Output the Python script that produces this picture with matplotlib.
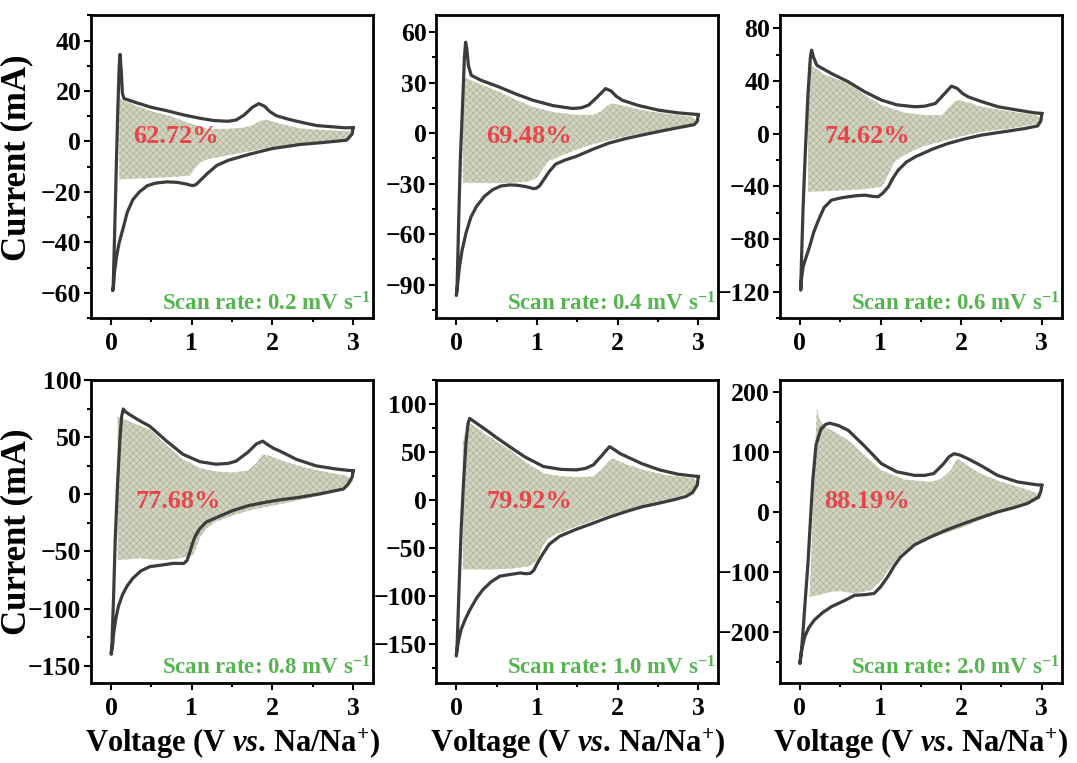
import matplotlib
matplotlib.use("Agg")
import matplotlib.pyplot as plt
from matplotlib.ticker import MultipleLocator

plt.rcParams["font.family"] = ["Liberation Serif", "DejaVu Serif"]
plt.rcParams["font.weight"] = "bold"
plt.rcParams["mathtext.fontset"] = "custom"
plt.rcParams["mathtext.rm"] = "Liberation Serif:bold"
plt.rcParams["mathtext.it"] = "Liberation Serif:italic:bold"
plt.rcParams["mathtext.bf"] = "Liberation Serif:bold"
plt.rcParams["hatch.linewidth"] = 0.4

# ---------------- data ----------------
scan_rates = ["0.2", "0.4", "0.6", "0.8", "1.0", "2.0"]
ratios = ["62.72%", "69.48%", "74.62%", "77.68%", "79.92%", "88.19%"]

# CV loops: cathodic sweep 3 V -> 0 V, then anodic sweep 0 V -> 3 V
cv_02_v = [3.0, 2.99, 2.92, 2.6, 2.34, 2.0, 1.72, 1.45, 1.31, 1.2, 1.1, 1.06, 1.02, 0.98, 0.94, 0.82,
           0.69, 0.55, 0.45, 0.35, 0.27, 0.2, 0.16, 0.1, 0.07, 0.04, 0.03, 0.02,
           0.025, 0.04, 0.06, 0.08, 0.1, 0.11, 0.125, 0.14, 0.16, 0.3, 0.5, 0.69, 0.9, 1.1,
           1.27, 1.45, 1.55, 1.65, 1.75, 1.83, 1.9, 1.97, 2.05, 2.2, 2.4, 2.55, 2.75, 2.9, 3.0]
cv_02_i = [5.5, 3.0, 0.5, -0.5, -1.2, -2.8, -5, -7.5, -9.5, -12.5, -15.6, -16.9, -17.5, -17.3, -16.9, -16.2,
           -16, -16.5, -17.5, -20, -23, -28, -33, -40, -45, -52, -57, -59,
           -58, -40, -15, 10, 30, 34.5, 28, 19, 17, 15.5, 13.5, 12.2, 10.5, 9.2,
           8.3, 8, 8.5, 10.5, 13.5, 15, 14, 11.8, 10.2, 8.8, 7.3, 6.3, 5.8, 5.4, 5.5]

cv_04_v = [3.0, 2.99, 2.95, 2.71, 2.5, 2.3, 2.1, 1.89, 1.7, 1.48, 1.35, 1.23, 1.15, 1.08, 1.03, 0.99,
           0.95, 0.92, 0.86, 0.75, 0.66, 0.55, 0.45, 0.35, 0.25, 0.18, 0.12, 0.07, 0.04, 0.02, 0.01, 0.0,
           0.01, 0.03, 0.05, 0.08, 0.1, 0.115, 0.13, 0.15, 0.185, 0.3, 0.53, 0.75, 0.95, 1.2,
           1.44, 1.55, 1.64, 1.75, 1.85, 1.92, 1.98, 2.06, 2.25, 2.51, 2.75, 3.0]
cv_04_i = [11, 7, 5, 2.8, 0.8, -1.2, -3.3, -6, -9.5, -14, -16, -18.5, -23, -28, -31.5, -32.8,
           -33, -32.5, -31.8, -31, -30.8, -31.5, -33.7, -37.5, -43.6, -50, -59.4, -70, -79, -88, -93, -96.5,
           -90, -50, -15, 20, 45, 54, 50, 40, 34.3, 31.5, 27.4, 23, 19.5, 16.3,
           14.6, 15, 16.6, 21.5, 26.4, 25, 22, 19.5, 16.5, 13.6, 12, 11]

cv_06_v = [3.0, 2.99, 2.95, 2.79, 2.5, 2.25, 2.05, 1.84, 1.65, 1.43, 1.32, 1.22, 1.15, 1.1, 1.03,
           0.97, 0.9, 0.81, 0.7, 0.6, 0.5, 0.39, 0.3, 0.23, 0.17, 0.12, 0.07, 0.04, 0.02, 0.01,
           0.02, 0.04, 0.07, 0.1, 0.13, 0.145, 0.17, 0.21, 0.4, 0.6, 0.8, 1.01, 1.2, 1.43,
           1.55, 1.68, 1.78, 1.88, 1.95, 2.02, 2.09, 2.25, 2.46, 2.7, 2.9, 3.0]
cv_06_i = [15.4, 10, 6, 4, 1.3, -1, -3.8, -7.3, -11.5, -17.5, -21.5, -27.6, -34, -40, -45,
           -47.8, -47.5, -46.6, -47, -47.8, -48.8, -50.4, -56, -65.6, -75, -85.8, -95, -101, -110, -118.7,
           -95, -55, -10, 30, 58, 63.5, 58, 52, 45.5, 39.5, 32, 25.6, 22, 20.5,
           21, 23, 29.5, 36.2, 34.5, 30.5, 28, 24.5, 20.5, 18, 16, 15.4]

cv_08_v = [3.0, 2.99, 2.93, 2.88, 2.6, 2.34, 2.1, 1.92, 1.7, 1.51, 1.35, 1.18, 1.1, 1.04, 1.0,
           0.97, 0.94, 0.9, 0.85, 0.77, 0.62, 0.48, 0.37, 0.27, 0.2, 0.14, 0.09, 0.06, 0.03, 0.02, 0.0,
           0.01, 0.03, 0.05, 0.08, 0.11, 0.13, 0.15, 0.18, 0.23, 0.35, 0.48, 0.68, 0.89, 1.1,
           1.3, 1.45, 1.55, 1.7, 1.8, 1.88, 1.95, 2.02, 2.09, 2.3, 2.54, 2.8, 3.0]
cv_08_i = [20.5, 15, 8, 4.6, 0.5, -2.6, -4.8, -6.9, -10, -14.2, -19, -24.3, -30, -37, -45,
           -52, -58, -60.5, -60.5, -60.4, -62, -63.3, -67, -73.4, -80, -87.9, -98, -108, -122, -131, -140,
           -130, -90, -40, 10, 50, 68, 74.6, 72, 69.7, 64.5, 59.5, 47, 35, 28.5,
           26.3, 27, 29, 37, 44, 46.5, 43, 40, 37.9, 30.5, 24.9, 22, 20.5]

cv_10_v = [3.0, 2.99, 2.93, 2.85, 2.7, 2.52, 2.3, 2.11, 1.9, 1.7, 1.48, 1.28, 1.15, 1.08, 1.03,
           0.99, 0.96, 0.92, 0.87, 0.79, 0.65, 0.54, 0.43, 0.33, 0.25, 0.17, 0.11, 0.06, 0.03, 0.01, 0.0,
           0.01, 0.03, 0.06, 0.09, 0.12, 0.145, 0.165, 0.25, 0.37, 0.5, 0.66, 0.85, 1.08, 1.3,
           1.49, 1.6, 1.7, 1.8, 1.9, 1.97, 2.03, 2.11, 2.3, 2.52, 2.75, 3.0]
cv_10_i = [24.6, 16, 8, 3.9, 0.5, -3, -7, -11.7, -17.5, -23.8, -30.5, -37.6, -46, -55, -61.8,
           -68, -73, -76, -76.5, -75.7, -77.5, -79, -85, -93, -102, -113.7, -124, -134.4, -145, -155, -162,
           -150, -100, -30, 20, 60, 80, 85, 80, 73, 65, 55.7, 45, 35, 32,
           31.5, 33, 36.7, 46, 55.7, 52, 48.5, 45.4, 38, 31.5, 27, 24.6]

cv_20_v = [3.0, 2.99, 2.96, 2.82, 2.65, 2.45, 2.25, 2.03, 1.82, 1.62, 1.42, 1.25, 1.17, 1.09, 1.0,
           0.92, 0.8, 0.68, 0.55, 0.39, 0.28, 0.18, 0.11, 0.06, 0.03, 0.01, 0.0,
           0.02, 0.04, 0.07, 0.1, 0.13, 0.16, 0.2, 0.26, 0.32, 0.37, 0.48, 0.6, 0.8, 1.01,
           1.2, 1.42, 1.55, 1.66, 1.78, 1.85, 1.91, 1.98, 2.08, 2.25, 2.45, 2.7, 2.9, 3.0]
cv_20_i = [44.4, 35, 25, 14, 7, 0, -9, -19.4, -30, -41.7, -55, -75, -90, -108, -125,
           -136, -138, -139, -148, -158, -168, -180, -193, -208, -225, -241.7, -252.8,
           -230, -197, -140, -86, -15, 53, 112, 138, 146, 148, 144, 136, 110, 80.6,
           67, 61, 61, 64, 80, 92, 97, 95, 89, 77, 61, 50, 46, 44.4]

# capacitive-contribution regions (closed polygons)
cap_02_v = [0.1, 0.3, 0.5, 0.74, 0.95, 1.19, 1.45, 1.65, 1.76, 1.85, 1.93, 2.1, 2.34, 2.6, 2.85,
            2.97, 3.0, 2.95, 2.7, 2.3, 2.0, 1.7, 1.4, 1.2, 1.1, 1.03, 0.98, 0.8, 0.5, 0.3, 0.1]
cap_02_i = [17, 14.3, 12, 10, 7.5, 5.0, 5, 5.5, 6.5, 8.2, 8.6, 7, 5.2, 4.6, 4.2,
            4.0, 2.5, 0.8, 0.0, -1.0, -2.2, -4, -5.8, -7, -8.5, -11, -13.5, -14, -14.5, -14.7, -15]

cap_04_v = [0.08, 0.3, 0.53, 0.75, 0.95, 1.2, 1.45, 1.69, 1.8, 1.88, 1.93, 2.05, 2.3, 2.6, 2.92,
            3.0, 2.97, 2.92, 2.6, 2.3, 2.0, 1.7, 1.48, 1.3, 1.15, 1.08, 1.0, 0.9, 0.7, 0.45, 0.2, 0.08]
cap_04_i = [33.4, 29, 24.5, 19.5, 15.6, 12.5, 11, 10.7, 13, 16.5, 17.6, 16.5, 13.6, 11.5, 9.7,
            7, 4.5, 3.8, 1.8, 0, -3, -6.5, -10, -13.5, -16.5, -21, -26.5, -28.8, -29.5, -29.8, -29.6, -29.4]

cap_06_v = [0.1, 0.3, 0.6, 0.8, 1.01, 1.3, 1.55, 1.76, 1.85, 1.92, 1.97, 2.1, 2.25, 2.6, 2.92,
            3.0, 2.96, 2.6, 2.25, 1.9, 1.51, 1.3, 1.18, 1.12, 1.06, 1.01, 0.8, 0.6, 0.35, 0.1]
cap_06_i = [53.4, 45, 38.2, 29.5, 21.8, 16, 14.2, 14.2, 20, 24.5, 25.6, 23.5, 20.5, 17, 14.2,
            11, 7.8, 4, 1.5, -3.5, -9.9, -16, -21, -28, -36, -40.3, -42, -42.8, -43.5, -44]

cap_08_v = [0.08, 0.25, 0.48, 0.7, 0.89, 1.1, 1.3, 1.51, 1.7, 1.8, 1.88, 1.95, 2.13, 2.4, 2.7,
            2.92, 3.0, 2.96, 2.8, 2.6, 2.34, 2.0, 1.75, 1.51, 1.3, 1.18, 1.1, 1.05, 1.01, 0.85,
            0.68, 0.5, 0.35, 0.2, 0.08]
cap_08_i = [68.2, 63, 56.6, 42, 30.6, 23, 20, 19, 21, 27, 35, 34, 29.2, 23.5, 19,
            16.2, 12, 7.5, 3, -1, -5, -10, -13.5, -18.5, -24, -30, -38, -48, -53.2, -56,
            -57.5, -57, -56, -57, -57.5]

cap_10_v = [0.08, 0.14, 0.37, 0.66, 0.85, 1.08, 1.3, 1.5, 1.7, 1.8, 1.88, 1.94, 2.1, 2.32, 2.6,
            2.94, 3.0, 2.98, 2.9, 2.7, 2.4, 2.11, 1.8, 1.5, 1.28, 1.13, 1.06, 1.0, 0.91, 0.7,
            0.45, 0.25, 0.08]
cap_10_i = [60, 81.7, 68, 52.3, 40, 28, 25, 24, 24.6, 32, 40, 43.6, 37.5, 31.5, 26,
            22.9, 18, 14, 8, 2, -5, -10, -18, -27, -34, -40, -50, -63, -68.7, -71,
            -72, -72, -72]

cap_20_v = [0.12, 0.21, 0.24, 0.31, 0.45, 0.6, 0.8, 1.01, 1.3, 1.62, 1.75, 1.87, 1.95, 2.05, 2.24,
            2.5, 2.8, 2.96, 3.0, 2.98, 2.86, 2.6, 2.3, 2.03, 1.75, 1.42, 1.25, 1.13, 1.0, 0.88,
            0.68, 0.5, 0.39, 0.25, 0.12]
cap_20_i = [-141.7, 172, 155, 141.7, 132, 119.4, 95, 69.4, 54, 50, 55, 69.4, 89, 80, 64,
            50, 38, 30.5, 30, 22, 14, 3, -10, -25, -38, -52.8, -70, -91.7, -115, -130.6,
            -136, -132, -133, -138, -141.7]

cv_v = [cv_02_v, cv_04_v, cv_06_v, cv_08_v, cv_10_v, cv_20_v]
cv_i = [cv_02_i, cv_04_i, cv_06_i, cv_08_i, cv_10_i, cv_20_i]
cap_v = [cap_02_v, cap_04_v, cap_06_v, cap_08_v, cap_10_v, cap_20_v]
cap_i = [cap_02_i, cap_04_i, cap_06_i, cap_08_i, cap_10_i, cap_20_i]

# ---------------- axes layout / scales ----------------
ylims = [(-70, 50), (-110, 70), (-140, 90), (-165, 100), (-190, 125), (-285, 220)]
ymajor = [20, 30, 40, 50, 50, 100]
lefts = [0.0845, 0.405, 0.724]
bottoms = [0.583, 0.105]
W, H = 0.262, 0.397
label_xy = [(0.30, 0.60), (0.33, 0.60), (0.31, 0.60), (0.31, 0.60), (0.33, 0.60), (0.31, 0.60)]

RED = "#e8454a"
GREEN = "#56b451"
LINE = "#3c3c3c"

fig = plt.figure(figsize=(10.77, 7.63), dpi=100)

for k in range(6):
    r, c = divmod(k, 3)
    ax = fig.add_axes([lefts[c], bottoms[r], W, H])

    ax.fill(cap_v[k], cap_i[k], facecolor="#d2d4c0", edgecolor="#a6ab92",
            linewidth=0, hatch="xxxxx", zorder=1)
    ax.plot(cv_v[k], cv_i[k], color=LINE, lw=2.3, solid_joinstyle="round", zorder=2)

    ax.set_xlim(-0.25, 3.25)
    ax.set_ylim(*ylims[k])
    ax.xaxis.set_major_locator(MultipleLocator(1))
    ax.xaxis.set_minor_locator(MultipleLocator(0.5))
    ax.yaxis.set_major_locator(MultipleLocator(ymajor[k]))
    ax.yaxis.set_minor_locator(MultipleLocator(ymajor[k] / 2))
    ax.tick_params(which="both", direction="out", width=1.5, top=False, right=False,
                   labelsize=18.5)
    ax.tick_params(which="major", length=5, pad=2)
    ax.tick_params(which="minor", length=3)
    ax.tick_params(axis="x", pad=5)
    for s in ax.spines.values():
        s.set_linewidth(2)
    for lab in ax.get_xticklabels() + ax.get_yticklabels():
        lab.set_fontweight("bold")

    ax.text(*label_xy[k], ratios[k], transform=ax.transAxes, color=RED, fontsize=19,
            fontweight="bold", ha="center", va="center", zorder=3)
    ax.text(0.99, 0.01, f"Scan rate: {scan_rates[k]} mV s$^{{-1}}$", transform=ax.transAxes,
            color=GREEN, fontsize=16.5, fontweight="bold", ha="right", va="bottom", zorder=3)

    if c == 0:
        ax.set_ylabel("Current (mA)", fontsize=25, fontweight="bold")
        ax.yaxis.set_label_coords(-0.205, 0.53 if r == 0 else 0.5)
    if r == 1:
        ax.set_xlabel("Voltage (V $\\mathit{vs}$. Na/Na$^{+}$)", fontsize=22, fontweight="bold")
        ax.xaxis.set_label_coords(0.5, -0.145)

fig.savefig("out.png", dpi=100, facecolor="white")
